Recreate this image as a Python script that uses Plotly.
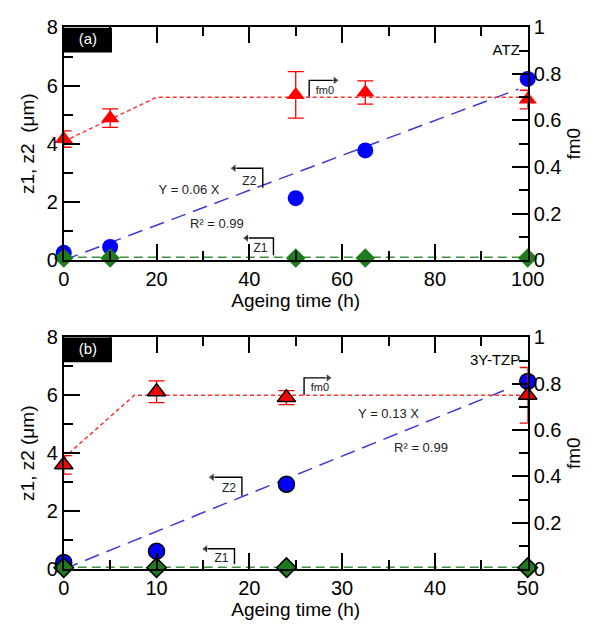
import plotly.graph_objects as go

# ---- ATZ (panel a) ----
atz_time = [0, 10, 50, 65, 100]
atz_z1 = [0.07, 0.07, 0.07, 0.07, 0.07]
atz_z2 = [0.25, 0.45, 2.13, 3.77, 6.23]
atz_fm0 = [0.52, 0.61, 0.71, 0.72, 0.69]
atz_fm0_err = [0.035, 0.04, 0.10, 0.05, 0.04]
atz_fm0_trend_t = [0, 20, 100]
atz_fm0_trend = [0.51, 0.70, 0.70]
atz_z1_level = 0.1
atz_slope = 0.06
atz_r2 = 0.99
atz_fit_end = 98

# ---- 3Y-TZP (panel b) ----
tzp_time = [0, 10, 24, 50]
tzp_z1 = [0.05, 0.05, 0.05, 0.05]
tzp_z2 = [0.23, 0.62, 2.93, 6.48]
tzp_fm0 = [0.45, 0.765, 0.74, 0.75]
tzp_fm0_err = [0.04, 0.047, 0.03, 0.12]
tzp_fm0_trend_t = [0, 7.6, 50]
tzp_fm0_trend = [0.48, 0.75, 0.75]
tzp_z1_level = 0.06
tzp_slope = 0.13
tzp_r2 = 0.99
tzp_fit_end = 48

W, H = 614, 639
FONT = "Liberation Sans"
RED = "#ff0000"
BLUE = "#0000ff"
GREEN = "#1e7b1e"
INK = "#222222"


def px(x):
    return x / W


def py(y):
    return 1 - y / H


fig = go.Figure()


def add_panel(xa, ya, ya2, t, z1, z2, fm0, err, tr_t, tr_v, z1_level, slope,
              fit_end, xmax, outline):
    line_kw = dict(color="black", width=1.5) if outline else dict(width=0)
    fig.add_trace(go.Scatter(x=[0, xmax], y=[z1_level, z1_level], mode="lines",
                             line=dict(color="#3f8f3f", width=1.5, dash="9px,5px"),
                             xaxis=xa, yaxis=ya, hoverinfo="skip"))
    fig.add_trace(go.Scatter(x=[0, fit_end], y=[0, slope * fit_end], mode="lines",
                             line=dict(color="#3b3bd6", width=1.5, dash="15px,8px"),
                             xaxis=xa, yaxis=ya, hoverinfo="skip"))
    fig.add_trace(go.Scatter(x=t, y=z2, mode="markers", cliponaxis=False,
                             marker=dict(symbol="circle", size=16, color=BLUE, line=line_kw),
                             xaxis=xa, yaxis=ya))
    fig.add_trace(go.Scatter(x=t, y=z1, mode="markers", cliponaxis=False,
                             marker=dict(symbol="diamond", size=15, color=GREEN, line=line_kw),
                             xaxis=xa, yaxis=ya))
    fig.add_trace(go.Scatter(x=tr_t, y=tr_v, mode="lines",
                             line=dict(color="#ff3030", width=1.5, dash="4px,3px"),
                             xaxis=xa, yaxis=ya2, hoverinfo="skip"))
    fig.add_trace(go.Scatter(x=t, y=fm0, mode="markers", cliponaxis=False,
                             marker=dict(symbol="triangle-up", size=16, color=RED, line=line_kw),
                             error_y=dict(type="data", array=err, color=RED, thickness=1.3, width=8),
                             xaxis=xa, yaxis=ya2))


add_panel("x", "y", "y2", atz_time, atz_z1, atz_z2, atz_fm0, atz_fm0_err,
          atz_fm0_trend_t, atz_fm0_trend, atz_z1_level, atz_slope, atz_fit_end, 100, False)
add_panel("x2", "y3", "y4", tzp_time, tzp_z1, tzp_z2, tzp_fm0, tzp_fm0_err,
          tzp_fm0_trend_t, tzp_fm0_trend, tzp_z1_level, tzp_slope, tzp_fit_end, 50, True)


def label(xa, ya, x, y, text, size=12, color=INK, pos="middle center"):
    fig.add_trace(go.Scatter(x=[x], y=[y], mode="text", text=[text], textposition=pos,
                             textfont=dict(family=FONT, size=size, color=color),
                             xaxis=xa, yaxis=ya, hoverinfo="skip", cliponaxis=False))


def pointer(xa, ya, xs, ys, head, text, tpos, size=12):
    # bent leader with an arrowhead on the first point
    fig.add_trace(go.Scatter(x=xs, y=ys, mode="lines+markers",
                             line=dict(color="black", width=1.4),
                             marker=dict(symbol=head, size=[8, 0, 0], color="black"),
                             xaxis=xa, yaxis=ya, hoverinfo="skip"))
    label(xa, ya, tpos[0], tpos[1], text, size=size)


def tag(xa, ya, x1, text):
    fig.add_trace(go.Scatter(x=[0, x1, x1, 0, 0], y=[7.14, 7.14, 8, 8, 7.14], mode="lines",
                             fill="toself", fillcolor="black", line=dict(width=0),
                             xaxis=xa, yaxis=ya, hoverinfo="skip"))
    label(xa, ya, x1 / 2, 7.57, text, size=15, color="white")


# panel (a) labels (right-axis positions expressed on the 0-8 scale)
tag("x", "y", 10.4, "(a)")
pointer("x", "y", [36.7, 42.9, 42.9], [3.16, 3.16, 2.49], "triangle-left", "Z2", (40.0, 2.69))
pointer("x", "y", [39.4, 45.2, 45.2], [0.76, 0.76, 0.17], "triangle-left", "Z1", (42.4, 0.38))
pointer("x", "y", [58.5, 52.9, 52.9], [6.18, 6.18, 5.58], "triangle-right", "fm0", (56.3, 5.82), size=11)
label("x", "y", 98.3, 7.17, "ATZ", size=15, color="black", pos="middle left")
label("x", "y", 27.0, 2.37, f"Y = {atz_slope:.2f} X", size=13)
label("x", "y", 33.0, 1.20, f"R² = {atz_r2:.2f}", size=13)

# panel (b) labels
tag("x2", "y3", 5.2, "(b)")
pointer("x2", "y3", [16.0, 19.2, 19.2], [3.17, 3.17, 2.53], "triangle-left", "Z2", (17.8, 2.75))
pointer("x2", "y3", [15.3, 18.4, 18.4], [0.70, 0.70, 0.17], "triangle-left", "Z1", (17.0, 0.35))
pointer("x2", "y3", [28.5, 25.9, 25.9], [6.6, 6.6, 6.0], "triangle-right", "fm0", (27.6, 6.24), size=11)
label("x2", "y3", 49.2, 7.17, "3Y-TZP", size=15, color="black", pos="middle left")
label("x2", "y3", 35.0, 5.32, f"Y = {tzp_slope:.2f} X", size=13)
label("x2", "y3", 38.5, 4.15, f"R² = {tzp_r2:.2f}", size=13)

common = dict(showline=True, linecolor="black", linewidth=2, ticks="inside",
              ticklen=16, tickwidth=2, tickcolor="black", showgrid=False,
              zeroline=False, tickfont=dict(family=FONT, size=20, color="black"))
title_font = dict(family=FONT, size=19, color="black")


def minor(dt):
    return dict(dtick=dt, ticks="inside", ticklen=9, tickwidth=2, tickcolor="black")


def xcfg(anchor, xmax, dt):
    return dict(common, range=[0, xmax], dtick=dt, tick0=0, mirror="ticks", anchor=anchor,
                domain=[px(60), px(542)], minor=minor(dt / 2),
                title=dict(text="Ageing time (h)", font=title_font, standoff=3))


def ycfg(anchor, dom, title):
    return dict(common, range=[0, 8], dtick=2, tick0=0, anchor=anchor, domain=dom,
                minor=minor(1), title=dict(text=title, font=title_font, standoff=7))


def y2cfg(over, anchor):
    return dict(common, range=[0, 1], dtick=0.2, tick0=0, overlaying=over, side="right",
                anchor=anchor, minor=minor(0.1),
                title=dict(text="fm0", font=title_font, standoff=6))


dom_a = [py(258), py(17)]
dom_b = [py(578), py(338)]

fig.update_layout(
    width=W, height=H, margin=dict(l=0, r=0, t=0, b=0),
    paper_bgcolor="white", plot_bgcolor="white", showlegend=False,
    xaxis=xcfg("y", 100, 20), xaxis2=xcfg("y3", 50, 10),
    yaxis=ycfg("x", dom_a, "z1, z2  (μm)"), yaxis2=y2cfg("y", "x"),
    yaxis3=ycfg("x2", dom_b, "z1, z2 (μm)"), yaxis4=y2cfg("y3", "x2"),
)

fig.write_html("out.html")
